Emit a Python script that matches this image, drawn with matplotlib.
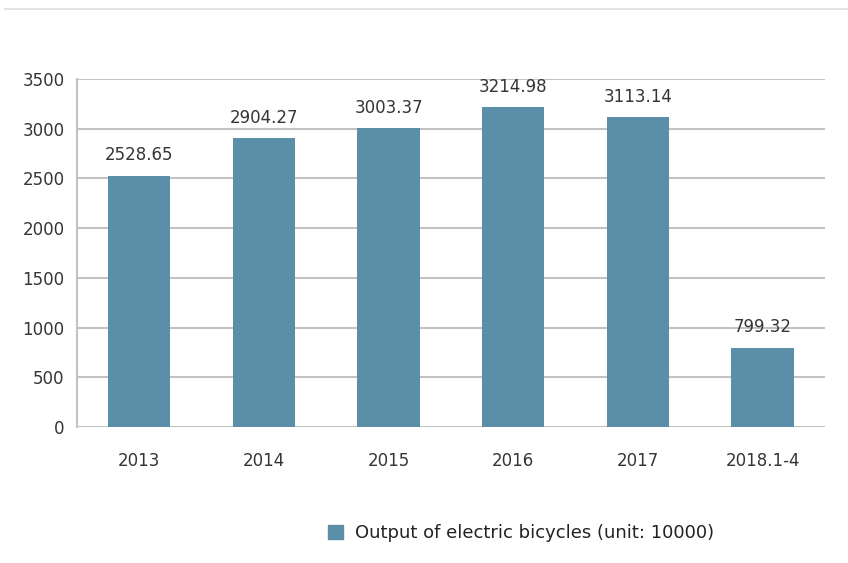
import numpy as np
import matplotlib.pyplot as plt
from matplotlib.lines import Line2D
from matplotlib.patches import Patch

## data
years = ["2013", "2014", "2015", "2016", "2017", "2018.1-4"]
output = [2528.65, 2904.27, 3003.37, 3214.98, 3113.14, 799.32]
value_labels = ["2528.65", "2904.27", "3003.37", "3214.98", "3113.14", "799.32"]
yticks = [0, 500, 1000, 1500, 2000, 2500, 3000, 3500]

bar_color = "#5b8ea7"
grid_color = "#c3c3c3"
text_color = "#353535"

fig = plt.figure(figsize=(8.48, 5.63), dpi=100)
ax = fig.add_axes([0.0908, 0.2416, 0.882, 0.6181])

x = np.arange(len(years))
bars = ax.bar(x, output, width=0.5, color=bar_color, zorder=3)

for xi, v, lab in zip(x, output, value_labels):
    ax.annotate(lab, (xi, v), xytext=(0, 8), textcoords="offset points",
                ha="center", va="bottom", fontsize=12, color=text_color)

ax.set_xlim(-0.5, len(years) - 0.5)
ax.set_ylim(0, 3500)
ax.set_yticks(yticks)
ax.set_yticklabels([str(t) for t in yticks], fontsize=12, color=text_color)
ax.set_xticks(x)
ax.set_xticklabels(years, fontsize=12, color=text_color)
ax.tick_params(axis="x", length=0, pad=18)
ax.tick_params(axis="y", length=0, pad=9)

ax.grid(axis="y", color=grid_color, linewidth=1.5, zorder=0)
for s in ["top", "right", "bottom"]:
    ax.spines[s].set_visible(False)
ax.spines["left"].set_color(grid_color)
ax.spines["left"].set_linewidth(1.5)

# legend under the chart
fig.legend(handles=[Patch(color=bar_color)],
           labels=["Output of electric bicycles (unit: 10000)"],
           loc="center", bbox_to_anchor=(0.615, 0.053), frameon=False,
           fontsize=13, handlelength=0.8, handleheight=0.8, handletextpad=0.7,
           labelcolor="#222222")

# thin frame line at the top
fig.add_artist(Line2D([0.006, 1.0], [0.984, 0.984], color="#dddddd", linewidth=1.2))

fig.savefig("out.png", dpi=100, facecolor="white")
